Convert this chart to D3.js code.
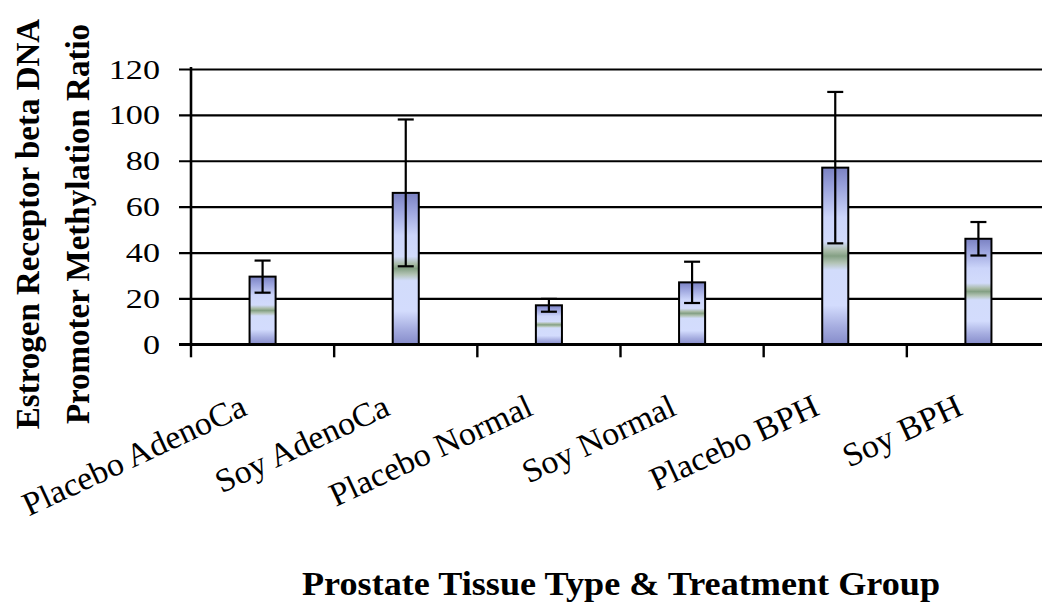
<!DOCTYPE html>
<html>
<head>
<meta charset="utf-8">
<script src="https://cdn.jsdelivr.net/npm/d3@7"></script>
<style>
  html, body { margin: 0; padding: 0; background: #fff; }
  svg { display: block; }
  text { font-family: "Liberation Serif", "Times New Roman", serif; fill: #000; }
</style>
</head>
<body>
<svg id="chart" width="1042" height="602"></svg>
<script>
// Group labels along the category axis
const categories = ["Placebo AdenoCa", "Soy AdenoCa", "Placebo Normal", "Soy Normal", "Placebo BPH", "Soy BPH"];
// Mean methylation ratio per group
const means = [29.5, 66, 17, 27, 77, 46];
// Error bar half-length per group
const errors = [7, 32, 2.8, 9, 33, 7.3];
// Value axis ticks
const yTicks = [0, 20, 40, 60, 80, 100, 120];

const yTitleLines = ["Estrogen Receptor beta DNA", "Promoter Methylation Ratio"];
const xTitle = "Prostate Tissue Type & Treatment Group";

const svg = d3.select("#chart");

const plot = { left: 191, right: 1050, top: 69, bottom: 344.3 };

const x = d3.scaleBand().domain(categories).range([plot.left, plot.right]);
const y = d3.scaleLinear().domain([0, 120]).range([plot.bottom, plot.top]);

const barW = x.bandwidth() * 0.182;

// Bar fill: dark blue ends, pale middle, green band at half height
const defs = svg.append("defs");
const grad = defs.append("linearGradient")
  .attr("id", "barFill").attr("x1", 0).attr("y1", 0).attr("x2", 0).attr("y2", 1);
[
  [0.00, "#7a81c2"],
  [0.10, "#979fda"],
  [0.28, "#ccd5fa"],
  [0.42, "#d2dbfb"],
  [0.47, "#a9bba8"],
  [0.50, "#84a084"],
  [0.54, "#b3c4b6"],
  [0.58, "#d2dcfb"],
  [0.78, "#d3dcfd"],
  [0.90, "#a6ade0"],
  [1.00, "#868cca"]
].forEach(([o, c]) => grad.append("stop").attr("offset", o).attr("stop-color", c));

// Horizontal gridlines with outside tick marks
const yAxis = d3.axisLeft(y).tickValues(yTicks).tickSizeOuter(0).tickSize(12).tickFormat("");
const gy = svg.append("g").attr("transform", `translate(${plot.left},0)`).call(yAxis);
gy.select(".domain").remove();
gy.selectAll(".tick line")
  .attr("x1", -12).attr("x2", plot.right - plot.left)
  .attr("stroke", "#000").attr("stroke-width", 2.2);

// Tick labels, set wide like the original face
const tickScaleX = 1.22;
svg.append("g").selectAll("g.ylab")
  .data(yTicks)
  .join("g")
  .attr("class", "ylab")
  .attr("transform", d => `translate(160,${y(d)}) scale(${tickScaleX},1)`)
  .append("text")
  .attr("text-anchor", "end")
  .attr("dy", "0.34em")
  .style("font-size", "28px")
  .text(d => d);

// Vertical axis line
svg.append("line")
  .attr("x1", plot.left).attr("x2", plot.left)
  .attr("y1", y(120) - 2).attr("y2", plot.bottom)
  .attr("stroke", "#000").attr("stroke-width", 2.6);

// Category boundary ticks below the baseline
const bounds = categories.map(c => x(c)).concat([x.range()[1]]);
svg.append("g").selectAll("line")
  .data(bounds)
  .join("line")
  .attr("x1", d => d).attr("x2", d => d)
  .attr("y1", plot.bottom).attr("y2", plot.bottom + 13)
  .attr("stroke", "#000").attr("stroke-width", 2.4);

// Bars
svg.append("g").selectAll("rect")
  .data(categories)
  .join("rect")
  .attr("x", (c) => x(c) + (x.bandwidth() - barW) / 2)
  .attr("y", (c, i) => y(means[i]))
  .attr("width", barW)
  .attr("height", (c, i) => y(0) - y(means[i]))
  .attr("fill", "url(#barFill)")
  .attr("stroke", "#000").attr("stroke-width", 2);

// Baseline redrawn over bar bottoms
svg.append("line")
  .attr("x1", plot.left - 12).attr("x2", plot.right)
  .attr("y1", y(0)).attr("y2", y(0))
  .attr("stroke", "#000").attr("stroke-width", 2.4);

// Error bars
const capW = 16;
const eb = svg.append("g").selectAll("g")
  .data(categories)
  .join("g")
  .attr("stroke", "#000").attr("stroke-width", 2.2);
eb.append("line")
  .attr("x1", c => x(c) + x.bandwidth() / 2).attr("x2", c => x(c) + x.bandwidth() / 2)
  .attr("y1", (c, i) => y(means[i] + errors[i]))
  .attr("y2", (c, i) => y(means[i] - errors[i]));
eb.append("line")
  .attr("x1", c => x(c) + x.bandwidth() / 2 - capW / 2).attr("x2", c => x(c) + x.bandwidth() / 2 + capW / 2)
  .attr("y1", (c, i) => y(means[i] + errors[i]))
  .attr("y2", (c, i) => y(means[i] + errors[i]));
eb.append("line")
  .attr("x1", c => x(c) + x.bandwidth() / 2 - capW / 2).attr("x2", c => x(c) + x.bandwidth() / 2 + capW / 2)
  .attr("y1", (c, i) => y(means[i] - errors[i]))
  .attr("y2", (c, i) => y(means[i] - errors[i]));

// Slanted category labels, ending just left of each bar
svg.append("g").selectAll("g.xlab")
  .data(categories)
  .join("g")
  .attr("class", "xlab")
  .attr("transform", c => `translate(${x(c) + x.bandwidth() / 2 - 14},414) rotate(-25) scale(1.03,1)`)
  .append("text")
  .attr("text-anchor", "end")
  .style("font-size", "33px")
  .text(c => c);

// Value axis title, two rotated lines
const yt = svg.append("g").attr("transform", "translate(0,224)");
yt.selectAll("text")
  .data(yTitleLines)
  .join("text")
  .attr("transform", (d, i) => `translate(${39 + i * 50},0) rotate(-90)`)
  .attr("text-anchor", "middle")
  .style("font-size", "33px")
  .style("font-weight", "bold")
  .text(d => d);

// Category axis title
svg.append("text")
  .attr("x", 621).attr("y", 595)
  .attr("text-anchor", "middle")
  .attr("textLength", 638).attr("lengthAdjust", "spacingAndGlyphs")
  .style("font-size", "33px")
  .style("font-weight", "bold")
  .text(xTitle);
</script>
</body>
</html>
